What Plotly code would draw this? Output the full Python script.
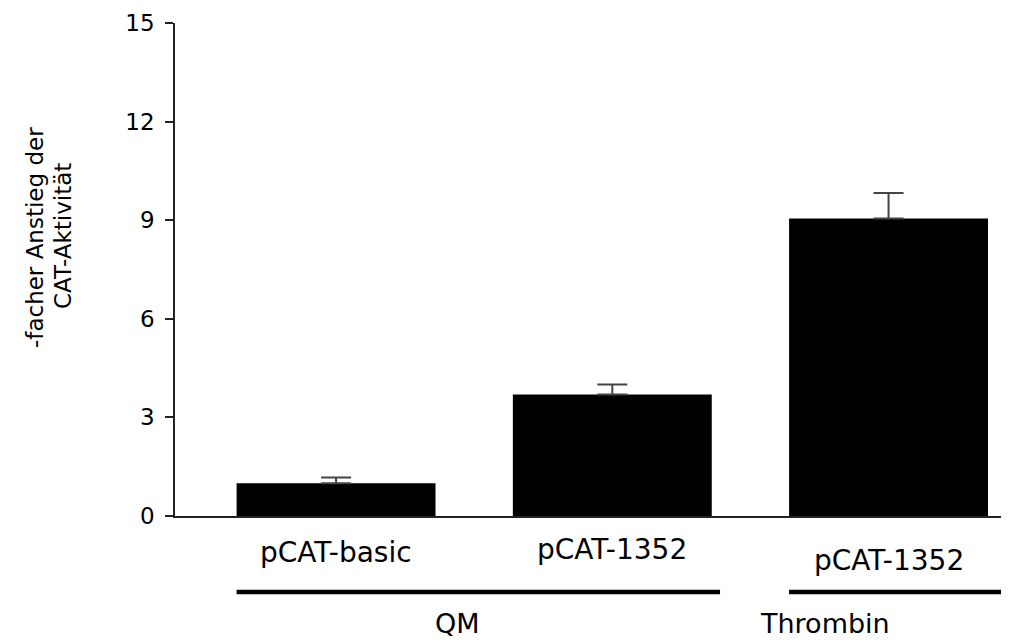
import plotly.graph_objects as go

categories = ["pCAT-basic", "pCAT-1352", "pCAT-1352"]
groups = ["QM", "QM", "Thrombin"]
values = [1.0, 3.7, 9.05]
errors = [0.17, 0.3, 0.78]
y_ticks = [0, 3, 6, 9, 12, 15]

xpos = list(range(len(categories)))
bar_w = 0.72

# plot area geometry (the page adds an 8px body margin, so the figure is shrunk by 8px)
L, T, PW, PH = 167, 15, 834, 493
FW, FH = 1001, 632


def px(x):  # reference-image x pixel -> paper x
    return (x - 8 - L) / PW


def py(y):  # reference-image y pixel -> paper y
    return (T + PH - (y - 8)) / PH


font = "DejaVu Sans, Liberation Sans, Arial, sans-serif"

fig = go.Figure()
fig.add_trace(go.Bar(
    x=xpos, y=values, width=bar_w,
    marker=dict(color="black", line=dict(width=0)),
    error_y=dict(type="data", array=errors, symmetric=False, arrayminus=[0] * 3,
                 color="#444444", thickness=2, width=15),
))

fig.update_layout(
    width=FW, height=FH,
    margin=dict(l=L, r=FW - L - PW, t=T, b=FH - T - PH),
    plot_bgcolor="white", paper_bgcolor="white",
    showlegend=False,
    font=dict(family=font, size=28, color="black"),
    xaxis=dict(range=[-0.583, 2.436], showticklabels=False, ticks="",
               showgrid=False, zeroline=False, showline=True,
               linecolor="#222222", linewidth=1.5, fixedrange=True),
    yaxis=dict(range=[0, 15], tickvals=y_ticks, ticks="outside", ticklen=8,
               tickwidth=1.5, tickcolor="#222222", showgrid=False, zeroline=False,
               showline=True, linecolor="#222222", linewidth=1.5,
               tickfont=dict(size=23), ticklabelstandoff=6),
)

# category labels (reference pixel y of cap centre)
label_y = [552, 549, 560]
for i, (c, yy) in enumerate(zip(categories, label_y)):
    fig.add_annotation(x=xpos[i], y=py(yy), xref="x", yref="paper", text=c,
                       showarrow=False, font=dict(size=28), yanchor="middle")

# group lines and labels
qm_idx = [i for i, g in enumerate(groups) if g == "QM"]
th_idx = [i for i, g in enumerate(groups) if g == "Thrombin"]
line_y = py(592)
fig.add_shape(type="line", xref="x", yref="paper",
              x0=qm_idx[0] - bar_w / 2, x1=qm_idx[-1] + 0.39, y0=line_y, y1=line_y,
              line=dict(color="black", width=4.5))
fig.add_shape(type="line", xref="x", yref="paper",
              x0=th_idx[0] - bar_w / 2, x1=2.436, y0=line_y, y1=line_y,
              line=dict(color="black", width=4.5))
fig.add_annotation(x=px(457), y=py(623), xref="paper", yref="paper", text="QM",
                   showarrow=False, font=dict(size=27), yanchor="middle")
fig.add_annotation(x=px(892), y=py(623), xref="paper", yref="paper", text="Thrombin",
                   showarrow=False, font=dict(size=27), yanchor="middle")

# y-axis title, two lines
fig.add_annotation(x=px(35), y=py(238), xref="paper", yref="paper",
                   text="-facher Anstieg der", showarrow=False, textangle=-90,
                   font=dict(size=23), xanchor="center", yanchor="middle")
fig.add_annotation(x=px(63), y=py(236), xref="paper", yref="paper",
                   text="CAT-Aktivität", showarrow=False, textangle=-90,
                   font=dict(size=23), xanchor="center", yanchor="middle")

fig.write_html("out.html")
